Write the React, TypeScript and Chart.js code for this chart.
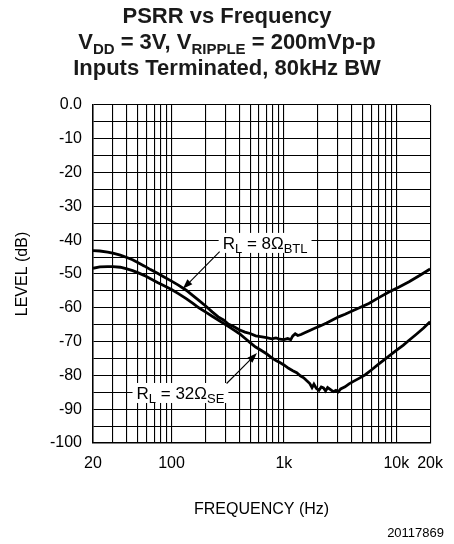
import React, { useEffect, useRef } from 'react';
import { Chart, registerables } from 'chart.js';

Chart.register(...registerables);

const FONT = '"Liberation Sans", Arial, Helvetica, sans-serif';

// R_L = 8 ohm BTL
const FREQ_BTL = [20, 23, 27, 30, 35, 40, 45, 50, 57, 65, 75, 85, 100, 115, 135, 155, 175, 200, 230, 260, 290, 320, 360, 400, 450, 500, 560, 620, 700, 780, 850, 920, 1000, 1080, 1150, 1200, 1260, 1330, 1420, 1550, 1700, 1900, 2100, 2400, 2700, 3100, 3500, 4000, 4700, 5700, 7000, 8600, 10500, 13000, 16000, 20000];
const LEVEL_BTL = [-43.1, -43.2, -43.5, -43.8, -44.4, -45.1, -45.8, -46.6, -47.6, -48.7, -49.8, -50.8, -52.1, -53.3, -54.8, -56.4, -57.8, -59.4, -61.2, -62.7, -63.6, -64.8, -65.6, -66.5, -67.2, -67.6, -68.3, -68.5, -68.8, -69.2, -68.9, -69.3, -69.4, -69.1, -69.4, -68.3, -67.7, -68.2, -67.9, -67.3, -66.7, -66.0, -65.4, -64.5, -63.6, -62.6, -61.9, -61.0, -60.0, -58.7, -57.0, -55.3, -53.9, -52.3, -50.5, -48.5];

// R_L = 32 ohm SE
const FREQ_SE = [20, 23, 27, 30, 35, 40, 45, 50, 57, 65, 75, 85, 100, 115, 135, 155, 175, 200, 230, 260, 290, 320, 360, 400, 450, 500, 560, 620, 700, 780, 850, 920, 1000, 1100, 1200, 1300, 1400, 1500, 1600, 1700, 1780, 1850, 1950, 2050, 2150, 2250, 2350, 2450, 2600, 2750, 2900, 3050, 3200, 3500, 3800, 4200, 4700, 5300, 6000, 7000, 8000, 9000, 10000, 11500, 13000, 15000, 17500, 20000];
const LEVEL_SE = [-48.3, -47.9, -47.8, -47.8, -48.0, -48.5, -49.0, -49.6, -50.4, -51.4, -52.5, -53.4, -54.6, -55.8, -57.3, -58.7, -60.0, -61.2, -62.5, -63.6, -64.6, -65.5, -66.6, -67.6, -69.0, -70.3, -71.6, -72.5, -73.6, -74.8, -75.6, -76.2, -76.9, -77.9, -78.6, -79.2, -80.1, -80.7, -81.6, -82.4, -83.6, -82.6, -83.9, -84.4, -83.4, -83.7, -84.6, -83.6, -84.2, -84.8, -84.4, -84.9, -84.0, -83.4, -82.5, -81.7, -80.8, -79.8, -78.4, -76.6, -75.1, -73.8, -72.6, -71.1, -69.6, -67.9, -66.0, -64.1];

const GRID_FREQS = [20, 30, 40, 50, 60, 70, 80, 90, 100, 200, 300, 400, 500, 600, 700, 800, 900, 1000, 2000, 3000, 4000, 5000, 6000, 7000, 8000, 9000, 10000, 20000];
const FREQ_TICK_VALUES = [20, 100, 1000, 10000, 20000];
const FREQ_TICK_LABELS = ['20', '100', '1k', '10k', '20k'];
const LEVEL_MIN = -100;
const LEVEL_MAX = 0;
const LEVEL_STEP = 5;
const LEVEL_LABEL_STEP = 10;

const TITLE_LINE_1 = 'PSRR vs Frequency';
const TITLE_LINE_2: [string, boolean][] = [['V', false], ['DD', true], [' = 3V, V', false], ['RIPPLE', true], [' = 200mVp-p', false]];
const TITLE_LINE_3 = 'Inputs Terminated, 80kHz BW';
const X_TITLE = 'FREQUENCY (Hz)';
const Y_TITLE = 'LEVEL (dB)';
const FIGURE_NOTE = '20117869';

const LABEL_BTL: [string, boolean][] = [['R', false], ['L', true], [' = 8\u03A9', false], ['BTL', true]];
const LABEL_SE: [string, boolean][] = [['R', false], ['L', true], [' = 32\u03A9', false], ['SE', true]];
// annotation anchors in data coordinates: [freq, level]
const LABEL_BTL_AT = [285, -40.8];
const ARROW_BTL_FROM = [268, -43.4];
const ARROW_BTL_TO = [126, -54.4];
const LABEL_SE_AT = [48.8, -85.2];
const ARROW_SE_FROM = [309, -82.4];
const ARROW_SE_TO = [576, -73.4];

function drawSegments(ctx: CanvasRenderingContext2D, segs: [string, boolean][], x: number, baseline: number, mainFont: string, subFont: string, subDy: number, align: 'left' | 'center') {
  let total = 0;
  const widths = segs.map(([t, sub]) => {
    ctx.font = sub ? subFont : mainFont;
    const w = ctx.measureText(t).width;
    total += w;
    return w;
  });
  let cx = align === 'center' ? x - total / 2 : x;
  const start = cx;
  ctx.textAlign = 'left';
  ctx.textBaseline = 'alphabetic';
  segs.forEach(([t, sub], i) => {
    ctx.font = sub ? subFont : mainFont;
    ctx.fillText(t, cx, baseline + (sub ? subDy : 0));
    cx += widths[i];
  });
  return { left: start, right: start + total };
}

function drawArrow(ctx: CanvasRenderingContext2D, x1: number, y1: number, x2: number, y2: number) {
  const ang = Math.atan2(y2 - y1, x2 - x1);
  const len = 10;
  const hw = 3.5;
  const bx = x2 - len * Math.cos(ang);
  const by = y2 - len * Math.sin(ang);
  ctx.strokeStyle = '#000';
  ctx.lineWidth = 1.1;
  ctx.beginPath();
  ctx.moveTo(x1, y1);
  ctx.lineTo(bx, by);
  ctx.stroke();
  ctx.fillStyle = '#000';
  ctx.beginPath();
  ctx.moveTo(x2, y2);
  ctx.lineTo(bx + hw * Math.sin(ang), by - hw * Math.cos(ang));
  ctx.lineTo(bx - hw * Math.sin(ang), by + hw * Math.cos(ang));
  ctx.closePath();
  ctx.fill();
}

const overlayPlugin = {
  id: 'overlay',
  afterDatasetsDraw(chart: any) {
    const ctx: CanvasRenderingContext2D = chart.ctx;
    const xs = chart.scales.x;
    const ys = chart.scales.y;
    const mainF = `17px ${FONT}`;
    const subF = `13px ${FONT}`;
    const drawLabel = (segs: [string, boolean][], at: number[]) => {
      const x = xs.getPixelForValue(at[0]);
      const cy = ys.getPixelForValue(at[1]);
      const base = cy + 6;
      let total = 0;
      segs.forEach(([t, sub]) => {
        ctx.font = sub ? subF : mainF;
        total += ctx.measureText(t).width;
      });
      ctx.fillStyle = '#fff';
      ctx.fillRect(x - 4, cy - 10, total + 8, 20);
      ctx.fillStyle = '#000';
      drawSegments(ctx, segs, x, base, mainF, subF, 4, 'left');
    };
    ctx.save();
    drawLabel(LABEL_BTL, LABEL_BTL_AT);
    drawLabel(LABEL_SE, LABEL_SE_AT);
    drawArrow(ctx, xs.getPixelForValue(ARROW_BTL_FROM[0]), ys.getPixelForValue(ARROW_BTL_FROM[1]), xs.getPixelForValue(ARROW_BTL_TO[0]), ys.getPixelForValue(ARROW_BTL_TO[1]));
    drawArrow(ctx, xs.getPixelForValue(ARROW_SE_FROM[0]), ys.getPixelForValue(ARROW_SE_FROM[1]), xs.getPixelForValue(ARROW_SE_TO[0]), ys.getPixelForValue(ARROW_SE_TO[1]));
    ctx.restore();
  },
  afterDraw(chart: any) {
    const ctx: CanvasRenderingContext2D = chart.ctx;
    const cx = 227;
    ctx.save();
    ctx.fillStyle = '#1a1a1a';
    const tf = `bold 22px ${FONT}`;
    const tsub = `bold 15px ${FONT}`;
    ctx.font = tf;
    ctx.textAlign = 'center';
    ctx.textBaseline = 'alphabetic';
    ctx.fillText(TITLE_LINE_1, cx, 23);
    drawSegments(ctx, TITLE_LINE_2, cx, 49, tf, tsub, 5, 'center');
    ctx.font = tf;
    ctx.textAlign = 'center';
    ctx.fillText(TITLE_LINE_3, cx, 74.5);
    ctx.fillStyle = '#000';
    ctx.font = `13px ${FONT}`;
    ctx.textAlign = 'right';
    ctx.textBaseline = 'middle';
    ctx.fillText(FIGURE_NOTE, 444, 533);
    ctx.restore();
  },
};

export default function App() {
  const ref = useRef<HTMLCanvasElement | null>(null);
  useEffect(() => {
    document.body.style.margin = '0';
    if (!ref.current) return;
    const chart = new Chart(ref.current, {
      type: 'line',
      data: {
        datasets: [
          {
            label: 'RL = 8Ω BTL',
            data: FREQ_BTL.map((f, i) => ({ x: f, y: LEVEL_BTL[i] })),
            borderColor: '#000',
            borderWidth: 2.8,
            pointRadius: 0,
            tension: 0,
          },
          {
            label: 'RL = 32Ω SE',
            data: FREQ_SE.map((f, i) => ({ x: f, y: LEVEL_SE[i] })),
            borderColor: '#000',
            borderWidth: 2.8,
            pointRadius: 0,
            tension: 0,
          },
        ],
      },
      options: {
        animation: false,
        responsive: false,
        devicePixelRatio: 1,
        layout: { padding: { left: 0, right: 23, top: 105, bottom: 0 } },
        plugins: {
          legend: { display: false },
          tooltip: { enabled: false },
          title: { display: false },
        },
        scales: {
          x: {
            type: 'logarithmic',
            min: 20,
            max: 20000,
            afterBuildTicks: (s: any) => {
              s.ticks = GRID_FREQS.map((v) => ({ value: v }));
            },
            afterFit: (s: any) => {
              s.height = 101;
            },
            ticks: {
              autoSkip: false,
              maxRotation: 0,
              padding: 11,
              color: '#000',
              font: { family: FONT, size: 16 },
              callback: (v: any) => {
                const i = FREQ_TICK_VALUES.indexOf(Number(v));
                return i >= 0 ? FREQ_TICK_LABELS[i] : '';
              },
            },
            grid: { color: '#000', lineWidth: 1.1, drawTicks: false },
            border: { display: true, color: '#000', width: 1.5 },
            title: {
              display: true,
              text: X_TITLE,
              color: '#000',
              font: { family: FONT, size: 16 },
              padding: { top: 0, bottom: 25 },
            },
          },
          y: {
            type: 'linear',
            min: LEVEL_MIN,
            max: LEVEL_MAX,
            afterFit: (s: any) => {
              s.width = 93;
            },
            ticks: {
              stepSize: LEVEL_STEP,
              autoSkip: false,
              padding: 11,
              color: '#000',
              font: { family: FONT, size: 16 },
              callback: (v: any) => {
                const n = Number(v);
                if (n % LEVEL_LABEL_STEP !== 0) return '';
                return n === 0 ? '0.0' : String(n);
              },
            },
            grid: { color: '#000', lineWidth: 1.1, drawTicks: false },
            border: { display: true, color: '#000', width: 1.5 },
            title: {
              display: true,
              text: Y_TITLE,
              color: '#000',
              font: { family: FONT, size: 16 },
              padding: { top: 13, bottom: 0 },
            },
          },
        },
      },
      plugins: [overlayPlugin],
    } as any);
    return () => chart.destroy();
  }, []);
  return (
    <div style={{ width: 454, height: 544 }}>
      <canvas ref={ref} width={454} height={544} style={{ display: 'block' }} />
    </div>
  );
}
